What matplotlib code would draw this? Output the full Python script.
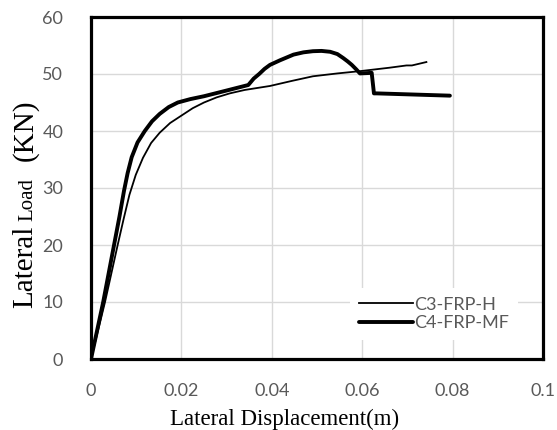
# ===================================================================================
# Lateral load vs lateral displacement for two FRP strengthened columns
# ===================================================================================

import matplotlib.pyplot as plt

# ===================================================================================
# DATA
# ===================================================================================

# C3-FRP-H (thin line)
c3_disp = [0, 0.0031, 0.0059, 0.0072, 0.0085, 0.0099, 0.0115, 0.0133, 0.0152,
           0.0175, 0.02, 0.0225, 0.025, 0.0278, 0.0307, 0.034, 0.0396, 0.0445,
           0.0491, 0.0545, 0.0595, 0.066, 0.0698, 0.071, 0.0742]
c3_load = [0, 10, 20, 24.5, 28.8, 32.3, 35.3, 37.9, 39.7,
           41.4, 42.7, 44.0, 45.0, 45.9, 46.6, 47.2, 47.9, 48.8,
           49.6, 50.1, 50.5, 51.1, 51.5, 51.5, 52.1]

# C4-FRP-MF (thick line)
c4_disp = [0, 0.0027, 0.0051, 0.0063, 0.0073, 0.0081, 0.009, 0.0103, 0.0119,
           0.0135, 0.0152, 0.0172, 0.0192, 0.022, 0.025, 0.03, 0.0348, 0.036,
           0.0372, 0.0384, 0.0396, 0.0418, 0.0448, 0.047, 0.0491, 0.051, 0.0529,
           0.0545, 0.0558, 0.0568, 0.0577, 0.0587, 0.0595, 0.0621, 0.0626,
           0.0632, 0.0794]
c4_load = [0, 10, 20, 25, 29.5, 32.6, 35.4, 38, 40,
           41.7, 43, 44.2, 45, 45.6, 46.1, 47.1, 48.07, 49.2,
           50.0, 50.9, 51.6, 52.4, 53.4, 53.8, 54.0, 54.05, 53.9,
           53.5, 52.8, 52.2, 51.6, 50.8, 50.1, 50.2, 46.6,
           46.6, 46.2]

series_labels = ["C3-FRP-H", "C4-FRP-MF"]
x_ticks = [0, 0.02, 0.04, 0.06, 0.08, 0.1]
x_tick_labels = ["0", "0.02", "0.04", "0.06", "0.08", "0.1"]
y_ticks = [0, 10, 20, 30, 40, 50, 60]

# ===================================================================================
# PLOT
# ===================================================================================

W, H = 557, 430
fig = plt.figure(figsize=(W / 100, H / 100), dpi=100)
ax = fig.add_axes([91 / W, 1 - 359 / H, (543 - 91) / W, (359 - 17) / H])

tick_gray = "#595959"
sans = "Lato"
serif = "Liberation Serif"

ax.plot(c3_disp, c3_load, color="black", linewidth=1.3, label=series_labels[0],
        solid_joinstyle="round")
ax.plot(c4_disp, c4_load, color="black", linewidth=2.8, label=series_labels[1],
        solid_joinstyle="round", solid_capstyle="round")

ax.set_xlim(0, 0.1)
ax.set_ylim(0, 60)
ax.set_xticks(x_ticks)
ax.set_xticklabels(x_tick_labels)
ax.set_yticks(y_ticks)
ax.tick_params(length=0, colors=tick_gray, labelsize=13)
ax.tick_params(axis="x", pad=17)
ax.tick_params(axis="y", pad=20)
for lbl in ax.get_xticklabels() + ax.get_yticklabels():
    lbl.set_fontfamily(sans)

ax.grid(True, color="#D9D9D9", linewidth=1.0)
ax.set_axisbelow(True)
for sp in ax.spines.values():
    sp.set_linewidth(2.3)
    sp.set_color("black")

leg = ax.legend(loc="center", bbox_to_anchor=((434 - 91) / 452, (359 - 314) / 342),
                frameon=True, fancybox=False, facecolor="white", edgecolor="none",
                framealpha=1, handlelength=3.0, handletextpad=0.1,
                labelspacing=0.15, borderpad=0.5, prop={"family": sans, "size": 13})
for t in leg.get_texts():
    t.set_color(tick_gray)

# x label (Times-like serif, slightly left of axes centre as in the original)
fig.text(285 / W, 1 - 425 / H, "Lateral Displacement(m)", family=serif,
         fontsize=16.5, ha="center", va="baseline")

# y label made of three pieces, "Load" in a smaller size
fig.text(32 / W, 1 - 308 / H, "Lateral", family=serif, fontsize=21,
         rotation=90, rotation_mode="anchor", ha="left", va="baseline")
fig.text(32 / W, 1 - 221 / H, "Load", family=serif, fontsize=15,
         rotation=90, rotation_mode="anchor", ha="left", va="baseline")
fig.text(32 / W, 1 - 161 / H, "(KN)", family=serif, fontsize=21,
         rotation=90, rotation_mode="anchor", ha="left", va="baseline")

fig.savefig("out.png", dpi=100)
